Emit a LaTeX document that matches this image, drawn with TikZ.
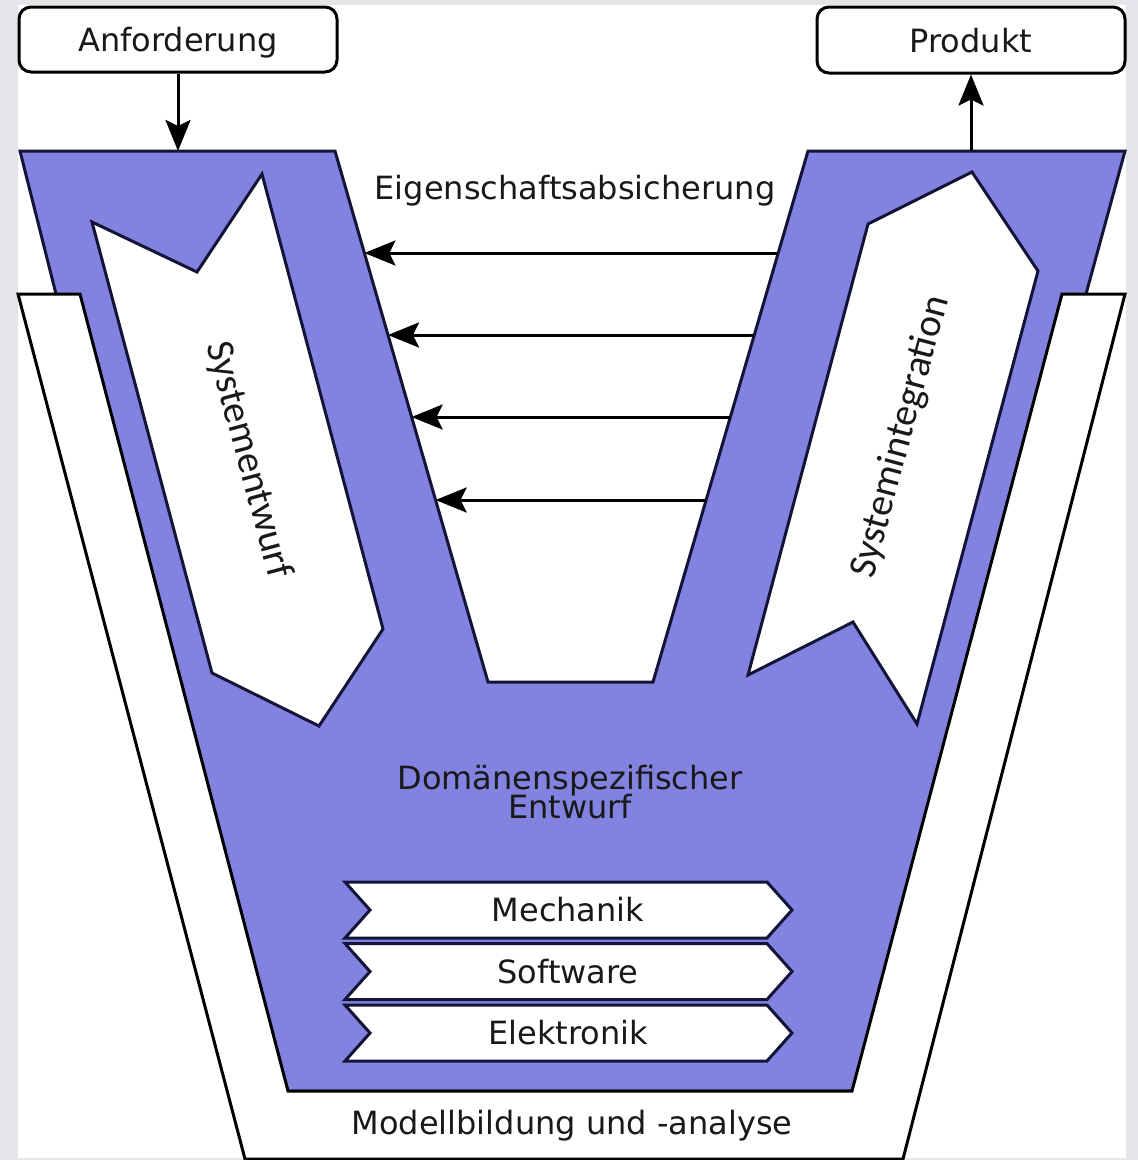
\documentclass[tikz,border=0pt]{standalone}
\usepackage{fontspec}
\usepackage{graphicx}
\setmainfont{DejaVu Sans}
\newfontfamily\phasefont{Carlito}
\usetikzlibrary{arrows.meta}
\definecolor{pagegray}{RGB}{227,229,233}
\definecolor{vblue}{RGB}{130,130,224}
\definecolor{navy}{RGB}{20,20,56}
\definecolor{ink}{RGB}{25,25,25}
\begin{document}
\begin{tikzpicture}[x=1pt,y=-1pt,
  txt/.style={font=\fontsize{32}{36}\selectfont, text=ink, inner sep=0pt},
  phasetxt/.style={font=\phasefont\fontsize{39.5}{44}\selectfont, text=ink, inner sep=0pt},
  band/.style={fill=white, draw=black, line width=3pt, line join=miter},
  vshape/.style={fill=vblue, draw=navy, line width=3pt, line join=miter},
  phase/.style={fill=white, draw=navy, line width=3pt, line join=miter},
  io/.style={draw=black, fill=white, line width=3pt, rounded corners=12pt,
    inner sep=0pt, text depth=0pt, font=\fontsize{32}{36}\selectfont, text=ink},
  flow/.style={line width=3pt, draw=black,
    -{Stealth[length=31pt,width=25pt,inset=6pt]}},
]
\useasboundingbox (0,0) rectangle (1138,1160);
\fill[pagegray] (0,0) rectangle (1138,1160);
\fill[white] (18,5) rectangle (1126,1158);

% V-shaped core of the process
\draw[vshape] (20,151) -- (335,151) -- (488,682) -- (653,682) -- (808,151)
  -- (1125,151) -- (1086,294) -- (852,1091) -- (288,1091) -- (56,294) -- cycle;

% surrounding band: modelling and analysis
\draw[band] (18,294) -- (80,294) -- (288,1091) -- (852,1091) -- (1062,294)
  -- (1125,294) -- (903,1159) -- (245,1159) -- cycle;

% system design (downward) and system integration (upward)
\draw[phase] (92,222) -- (197,272) -- (262,174) -- (383,629) -- (319,726)
  -- (212,673) -- cycle;
\draw[phase] (748,675) -- (868,224) -- (972,172) -- (1038,271) -- (917,724)
  -- (853,622) -- cycle;
\node[phasetxt] (design) at (248,460) {\rotatebox{-75}{Systementwurf}};
\node[phasetxt] (integ) at (901,437) {\rotatebox{75}{Systemintegration}};

% domain chevrons
\foreach \t/\lab/\nm in {882/Mechanik/mech, 943.5/Software/soft, 1005/Elektronik/elek} {
  \draw[phase] (345,\t) -- (767,\t) -- (792,\t+28) -- (767,\t+56)
    -- (345,\t+56) -- (370,\t+28) -- cycle;
  \node[txt] (\nm) at (568,\t+28) {\lab};
}

% property assurance arrows
\foreach \i/\y/\xl/\xr in {1/253/364.4/778.2, 2/335/388/754.3,
                           3/417/411.6/730.4, 4/500/435.6/706.1} {
  \coordinate (src\i) at (\xr,\y);
  \coordinate (dst\i) at (\xl,\y);
  \draw[flow] (src\i) -- (dst\i);
}

% input and output
\node[io, minimum width=318pt, minimum height=65pt] (req) at (178,39.5) {Anforderung};
\node[io, minimum width=308pt, minimum height=66pt] (prod) at (971,40) {Produkt};
\coordinate (vin) at (178,151);
\coordinate (vout) at (971,151);
\draw[flow] (req.south) -- (vin);
\draw[flow] (vout) -- (prod.south);

% labels
\node[txt] (prop) at (575,191) {Eigenschaftsabsicherung};
\node[txt, align=center, font=\fontsize{32}{32}\selectfont]
  (dom) at (570,792) {Domänenspezifischer\\[-3pt]Entwurf};
\node[txt] (model) at (572,1126) {Modellbildung und -analyse};
\end{tikzpicture}
\end{document}
